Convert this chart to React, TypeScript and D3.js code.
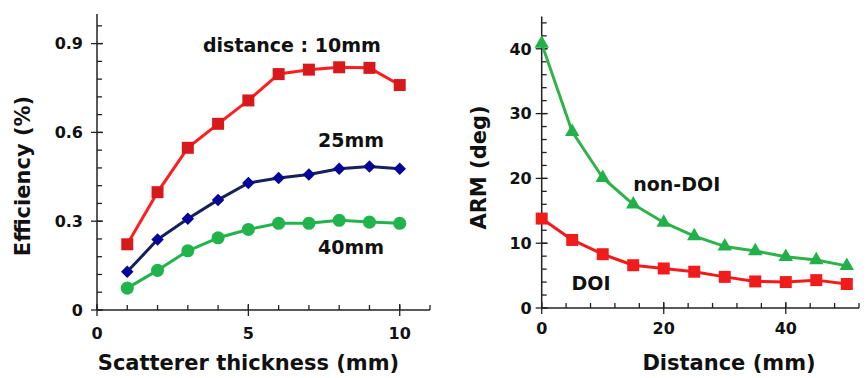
import React from "react";
import * as d3 from "d3";

// left panel: efficiency vs scatterer thickness
const thickness = [1, 2, 3, 4, 5, 6, 7, 8, 9, 10];
const eff10mm = [0.222, 0.398, 0.548, 0.629, 0.708, 0.797, 0.812, 0.82, 0.818, 0.76];
const eff25mm = [0.129, 0.238, 0.308, 0.372, 0.429, 0.446, 0.458, 0.477, 0.485, 0.477];
const eff40mm = [0.074, 0.134, 0.2, 0.244, 0.272, 0.293, 0.293, 0.303, 0.297, 0.293];
const leftXTicks = [0, 5, 10];
const leftYTicks = [0, 0.3, 0.6, 0.9];

// right panel: ARM vs distance
const distance = [0, 5, 10, 15, 20, 25, 30, 35, 40, 45, 50];
const armNonDoi = [40.8, 27.2, 20.1, 16.0, 13.2, 11.1, 9.5, 8.8, 7.9, 7.4, 6.5];
const armDoi = [13.8, 10.5, 8.3, 6.6, 6.1, 5.6, 4.8, 4.1, 4.0, 4.3, 3.7];
const rightXTicks = [0, 20, 40];
const rightYTicks = [0, 10, 20, 30, 40];

const font = "'DejaVu Sans', Verdana, sans-serif";
const axisColor = "#222";

function Panel({ x, y, xMinor, yMinor, xTicks, yTicks, yFmt, yLabelGap, xLabelY, children }) {
  const [x0, x1] = x.range();
  const [y0, y1] = y.range();
  return (
    <g>
      <line x1={x0} x2={x1} y1={y0} y2={y0} stroke={axisColor} strokeWidth={1.5} />
      <line x1={x0} x2={x0} y1={y0} y2={y1} stroke={axisColor} strokeWidth={1.5} />
      {xMinor.map((t) => (
        <line key={"xm" + t} x1={x(t)} x2={x(t)} y1={y0} y2={y0 - 5} stroke={axisColor} strokeWidth={1.3} />
      ))}
      {xTicks.map((t) => (
        <g key={"x" + t}>
          <line x1={x(t)} x2={x(t)} y1={y0 + 6} y2={y0 - 6} stroke={axisColor} strokeWidth={1.3} />
          <text x={x(t)} y={xLabelY} textAnchor="middle" fontFamily={font} fontWeight="bold" fontSize={16} fill="#111">
            {t}
          </text>
        </g>
      ))}
      {yMinor.map((t) => (
        <line key={"ym" + t} x1={x0} x2={x0 + 5} y1={y(t)} y2={y(t)} stroke={axisColor} strokeWidth={1.3} />
      ))}
      {yTicks.map((t) => (
        <g key={"y" + t}>
          <line x1={x0 - 6} x2={x0 + 6} y1={y(t)} y2={y(t)} stroke={axisColor} strokeWidth={1.3} />
          <text x={x0 - yLabelGap} y={y(t)} dy="0.36em" textAnchor="end" fontFamily={font} fontWeight="bold" fontSize={16} fill="#111">
            {yFmt(t)}
          </text>
        </g>
      ))}
      {children}
    </g>
  );
}

function Series({ xs, ys, x, y, lineColor, markColor, symbol, size, rotate = 0 }) {
  const line = d3.line<number>().x((d, i) => x(xs[i])).y((d) => y(d));
  const sym = d3.symbol().type(symbol).size(size)();
  return (
    <g>
      <path d={line(ys) || ""} fill="none" stroke={lineColor} strokeWidth={3} strokeLinejoin="round" />
      {ys.map((v, i) => (
        <path key={i} d={sym || ""} fill={markColor} transform={`translate(${x(xs[i])},${y(v)}) rotate(${rotate})`} />
      ))}
    </g>
  );
}

export default function App() {
  const lx = d3.scaleLinear().domain([0, 11]).range([97, 430]);
  const ly = d3.scaleLinear().domain([0, 1]).range([310, 14]);
  const rx = d3.scaleLinear().domain([0, 52]).range([541.7, 859]);
  const ry = d3.scaleLinear().domain([0, 45]).range([308, 16.4]);

  const lxMinor = d3.range(0, 12, 1);
  const lyMinor = d3.range(0, 0.97, 0.06);
  const rxMinor = d3.range(0, 53, 4);
  const ryMinor = d3.range(0, 45, 2);

  const annot = { fontFamily: font, fontWeight: "bold" as const, fontSize: 19, fill: "#111" };
  const title = { fontFamily: font, fontWeight: "bold" as const, fontSize: 21, fill: "#111" };

  return (
    <svg width={868} height={378} style={{ position: "absolute", left: 0, top: 0, background: "#fff" }}>
      <rect width={868} height={378} fill="#fff" />
      <Panel x={lx} y={ly} xMinor={lxMinor} yMinor={lyMinor} xTicks={leftXTicks} yTicks={leftYTicks}
        yFmt={(t) => (t === 0 ? "0" : d3.format(".1f")(t))} yLabelGap={14} xLabelY={339}>
        <Series xs={thickness} ys={eff10mm} x={lx} y={ly} lineColor="#ff1e1e" markColor="#d8191c" symbol={d3.symbolSquare} size={144} />
        <Series xs={thickness} ys={eff25mm} x={lx} y={ly} lineColor="#16205c" markColor="#05059a" symbol={d3.symbolSquare} size={78} rotate={45} />
        <Series xs={thickness} ys={eff40mm} x={lx} y={ly} lineColor="#22b44c" markColor="#22b44c" symbol={d3.symbolCircle} size={135} />
        <text x={lx(3.5)} y={ly(0.873)} {...annot}>distance : 10mm</text>
        <text x={lx(7.3)} y={ly(0.551)} {...annot}>25mm</text>
        <text x={lx(7.3)} y={ly(0.189)} {...annot}>40mm</text>
      </Panel>
      <text x={248.5} y={370} textAnchor="middle" {...title}>Scatterer thickness (mm)</text>
      <text transform="translate(30,176) rotate(-90)" textAnchor="middle" {...title}>Efficiency (%)</text>

      <Panel x={rx} y={ry} xMinor={rxMinor} yMinor={ryMinor} xTicks={rightXTicks} yTicks={rightYTicks}
        yFmt={(t) => String(t)} yLabelGap={10} xLabelY={334}>
        <Series xs={distance} ys={armNonDoi} x={rx} y={ry} lineColor="#2db34a" markColor="#22b04a" symbol={d3.symbolTriangle} size={90} />
        <Series xs={distance} ys={armDoi} x={rx} y={ry} lineColor="#f01c1c" markColor="#f01c1c" symbol={d3.symbolSquare} size={144} />
        <text x={rx(15)} y={ry(18.1)} {...annot}>non-DOI</text>
        <text x={rx(4.9)} y={ry(2.8)} {...annot}>DOI</text>
      </Panel>
      <text x={729} y={370} textAnchor="middle" {...title}>Distance (mm)</text>
      <text transform="translate(486,167.5) rotate(-90)" textAnchor="middle" {...title}>ARM (deg)</text>
    </svg>
  );
}
